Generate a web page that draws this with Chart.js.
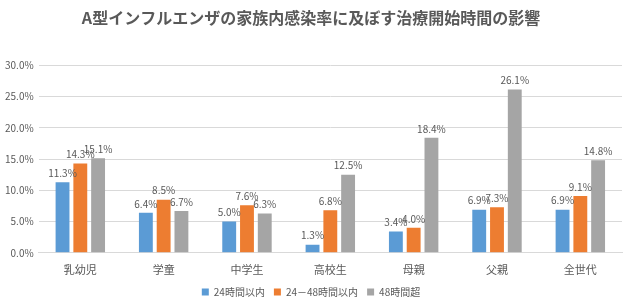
<!DOCTYPE html>
<html>
<head>
<meta charset="utf-8">
<script src="https://cdn.jsdelivr.net/npm/chart.js@4"></script>
<style>
html,body{margin:0;padding:0;background:#fff;}
#wrap{width:630px;height:308px;}
</style>
</head>
<body>
<div id="wrap"><canvas id="c" width="630" height="308"></canvas></div>
<script>
const categories = ['乳幼児','学童','中学生','高校生','母親','父親','全世代'];
const seriesNames = ['24時間以内','24－48時間以内','48時間超'];
const within24 = [11.3, 6.4, 5.0, 1.3, 3.4, 6.9, 6.9];
const within24to48 = [14.3, 8.5, 7.6, 6.8, 4.0, 7.3, 9.1];
const over48 = [15.1, 6.7, 6.3, 12.5, 18.4, 26.1, 14.8];
const yTicks = [0, 5, 10, 15, 20, 25, 30];
const colors = ['#5B9BD5', '#ED7D31', '#A5A5A5'];
const FONT = '"Noto Sans CJK JP", "Noto Sans", sans-serif';
const TEXT = '#595959';

const labelPlugin = {
  id: 'barLabels',
  afterDatasetsDraw(chart) {
    const ctx = chart.ctx;
    ctx.save();
    ctx.font = '10px ' + FONT;
    ctx.fillStyle = TEXT;
    ctx.textAlign = 'center';
    ctx.textBaseline = 'bottom';
    chart.data.datasets.forEach((ds, i) => {
      const meta = chart.getDatasetMeta(i);
      meta.data.forEach((el, j) => {
        ctx.fillText(ds.data[j].toFixed(1) + '%', el.x, el.y - 4);
      });
    });
    ctx.restore();
  }
};

new Chart(document.getElementById('c'), {
  type: 'bar',
  data: {
    labels: categories,
    datasets: [
      { label: seriesNames[0], data: within24, backgroundColor: colors[0] },
      { label: seriesNames[1], data: within24to48, backgroundColor: colors[1] },
      { label: seriesNames[2], data: over48, backgroundColor: colors[2] }
    ]
  },
  options: {
    responsive: false,
    animation: false,
    devicePixelRatio: 1,
    layout: { padding: { left: 0, right: 8, top: 4, bottom: 1 } },
    datasets: { bar: { categoryPercentage: 0.64, barPercentage: 0.78 } },
    plugins: {
      title: {
        display: true,
        text: 'A型インフルエンザの家族内感染率に及ぼす治療開始時間の影響',
        color: TEXT,
        font: { family: FONT, size: 16, weight: 'bold' },
        padding: { top: 4, bottom: 38 }
      },
      legend: {
        position: 'bottom',
        labels: {
          color: TEXT,
          font: { family: FONT, size: 10 },
          boxWidth: 7, boxHeight: 7,
          padding: 9
        }
      },
      tooltip: { enabled: false }
    },
    scales: {
      x: {
        grid: { display: false },
        border: { color: '#D9D9D9' },
        ticks: { color: TEXT, font: { family: FONT, size: 11 }, padding: 2 }
      },
      y: {
        min: 0, max: 30,
        afterBuildTicks(axis) { axis.ticks = yTicks.map(v => ({ value: v })); },
        grid: { color: '#D9D9D9', drawTicks: false },
        border: { display: false },
        ticks: {
          color: TEXT, font: { family: FONT, size: 10 }, padding: 5,
          callback: v => Number(v).toFixed(1) + '%'
        }
      }
    }
  },
  plugins: [labelPlugin]
});
</script>
</body>
</html>
